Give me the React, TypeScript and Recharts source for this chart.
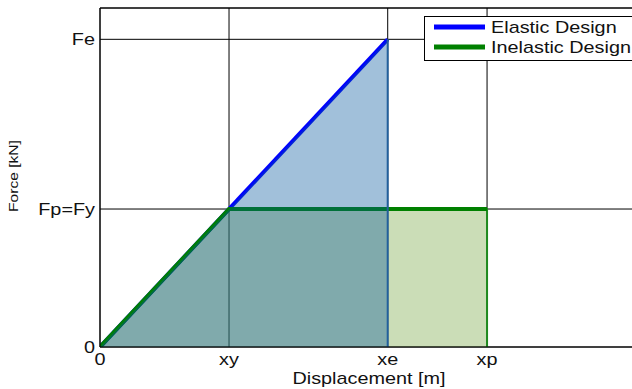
import React from 'react';
import {
    ComposedChart,
    Area,
    Line,
    XAxis,
    YAxis,
    CartesianGrid,
    Legend,
    ReferenceLine,
    Label,
} from 'recharts';

// characteristic points (Fy = xy = 1)
const xy = 1;
const xe = 2.23;
const xp = 3;
const Fy = 1;
const Fe = 2.23;
const xMax = 4.17;
const yMax = 2.457;

const elasticX = [0, xe];
const elasticY = [0, Fe];
const elasticAreaX = [0, xe, xe];
const elasticAreaY = [0, Fe, 0];

const inelasticX = [0, xy, xp];
const inelasticY = [0, Fy, Fy];
const inelasticAreaX = [0, xy, xp, xp];
const inelasticAreaY = [0, Fy, Fy, 0];

const xTicks = [0, xy, xe, xp];
const xTickLabels = ['0', 'xy', 'xe', 'xp'];
const yTicks = [0, Fy, Fe];
const yTickLabels = ['0', 'Fp=Fy', 'Fe'];

const toPoints = (xs: number[], ys: number[]) => xs.map((x, i) => ({ x, y: ys[i] }));

const FONT = '"Liberation Sans", Arial, sans-serif';
const SX = 1.24; // the original is stretched horizontally
const INK = '#111';

const XTick = (props: any) => {
    const { x, y, payload, index } = props;
    const i = index ?? xTicks.indexOf(payload.value);
    return (
        <g transform={`translate(${x},${y}) scale(${SX},1)`}>
            <text x={0} y={0} dy={18} textAnchor="middle" fill={INK} fontSize={16} fontFamily={FONT}>
                {xTickLabels[i]}
            </text>
        </g>
    );
};

const YTick = (props: any) => {
    const { x, y, payload, index } = props;
    const i = index ?? yTicks.indexOf(payload.value);
    return (
        <g transform={`translate(${x},${y}) scale(${SX},1)`}>
            <text x={0} y={0} dy={6} textAnchor="end" fill={INK} fontSize={16} fontFamily={FONT}>
                {yTickLabels[i]}
            </text>
        </g>
    );
};

const XLabel = (props: any) => {
    const vb = props.viewBox;
    return (
        <g transform={`translate(${vb.x + vb.width / 2},${vb.y + 37}) scale(${SX},1)`}>
            <text x={0} y={0} textAnchor="middle" fill={INK} fontSize={16} fontFamily={FONT}>
                Displacement [m]
            </text>
        </g>
    );
};

const YLabel = (props: any) => {
    const vb = props.viewBox;
    return (
        <g transform={`translate(${vb.x + 14},${vb.y + vb.height / 2 - 1.5}) scale(0.78,1) rotate(-90)`}>
            <text x={0} y={0} dy="0.36em" textAnchor="middle" fill={INK} fontSize={15.6} fontFamily={FONT}>
                Force [kN]
            </text>
        </g>
    );
};

const LegendBox = (props: any) => {
    const items = (props.payload || []).filter((p: any) => p.type !== 'none');
    return (
        <svg width={216} height={45} style={{ display: 'block' }}>
            <rect x={0.5} y={0.5} width={215} height={44} fill="#fff" stroke="#000" />
            {items.map((p: any, i: number) => (
                <g key={p.value}>
                    <line x1={10} x2={61} y1={11 + 20 * i} y2={11 + 20 * i} stroke={p.color} strokeWidth={5} />
                    <g transform={`translate(67,${11 + 20 * i}) scale(${SX},1)`}>
                        <text x={0} y={0} dy={6} fill={INK} fontSize={16} fontFamily={FONT}>
                            {p.value}
                        </text>
                    </g>
                </g>
            ))}
        </svg>
    );
};

const App = () => (
    <div style={{ position: 'fixed', left: 0, top: 0, width: 632, height: 389, overflow: 'hidden', background: '#fff' }}>
        <ComposedChart width={643} height={389} margin={{ top: 8, right: 5, bottom: 0, left: 0 }}>
            <CartesianGrid stroke="#000" strokeWidth={1} zIndex={-100} />
            <XAxis
                dataKey="x"
                type="number"
                domain={[0, xMax]}
                ticks={xTicks}
                allowDataOverflow
                height={42}
                stroke="#000"
                tickLine={false}
                tickSize={0}
                tickMargin={0}
                tick={<XTick />}
            >
                <Label content={<XLabel />} />
            </XAxis>
            <YAxis
                dataKey="y"
                type="number"
                domain={[0, yMax]}
                ticks={yTicks}
                allowDataOverflow
                width={100}
                stroke="#000"
                tickLine={false}
                tickSize={5}
                tickMargin={0}
                tick={<YTick />}
            >
                <Label content={<YLabel />} />
            </YAxis>
            <Area
                data={toPoints(inelasticAreaX, inelasticAreaY)}
                dataKey="y"
                type="linear"
                fill="#7daa4b"
                fillOpacity={0.4}
                stroke="#1f8a1f"
                strokeWidth={2}
                legendType="none"
                isAnimationActive={false}
                dot={false}
                activeDot={false}
                zIndex={100}
            />
            <Line
                data={toPoints(elasticX, elasticY)}
                dataKey="y"
                name="Elastic Design"
                type="linear"
                stroke="#0000ff"
                strokeWidth={4}
                dot={false}
                activeDot={false}
                isAnimationActive={false}
                zIndex={110}
            />
            <Line
                data={toPoints(inelasticX, inelasticY)}
                dataKey="y"
                name="Inelastic Design"
                type="linear"
                stroke="#008000"
                strokeWidth={4}
                dot={false}
                activeDot={false}
                isAnimationActive={false}
                zIndex={120}
            />
            <Area
                data={toPoints(elasticAreaX, elasticAreaY)}
                dataKey="y"
                type="linear"
                fill="#00559a"
                fillOpacity={0.37}
                stroke="none"
                legendType="none"
                isAnimationActive={false}
                dot={false}
                activeDot={false}
                zIndex={130}
            />
            {/* edge of the elastic triangle at xe */}
            <ReferenceLine
                segment={[{ x: xe, y: 0 }, { x: xe, y: Fe }]}
                stroke="#22609c"
                strokeWidth={2}
                zIndex={140}
            />
            <ReferenceLine y={yMax} stroke="#000" strokeWidth={1} ifOverflow="visible" />
            <Legend
                layout="vertical"
                align="center"
                verticalAlign="middle"
                wrapperStyle={{ left: 424, top: 16, width: 'auto' }}
                content={<LegendBox />}
            />
        </ComposedChart>
    </div>
);

export default App;
